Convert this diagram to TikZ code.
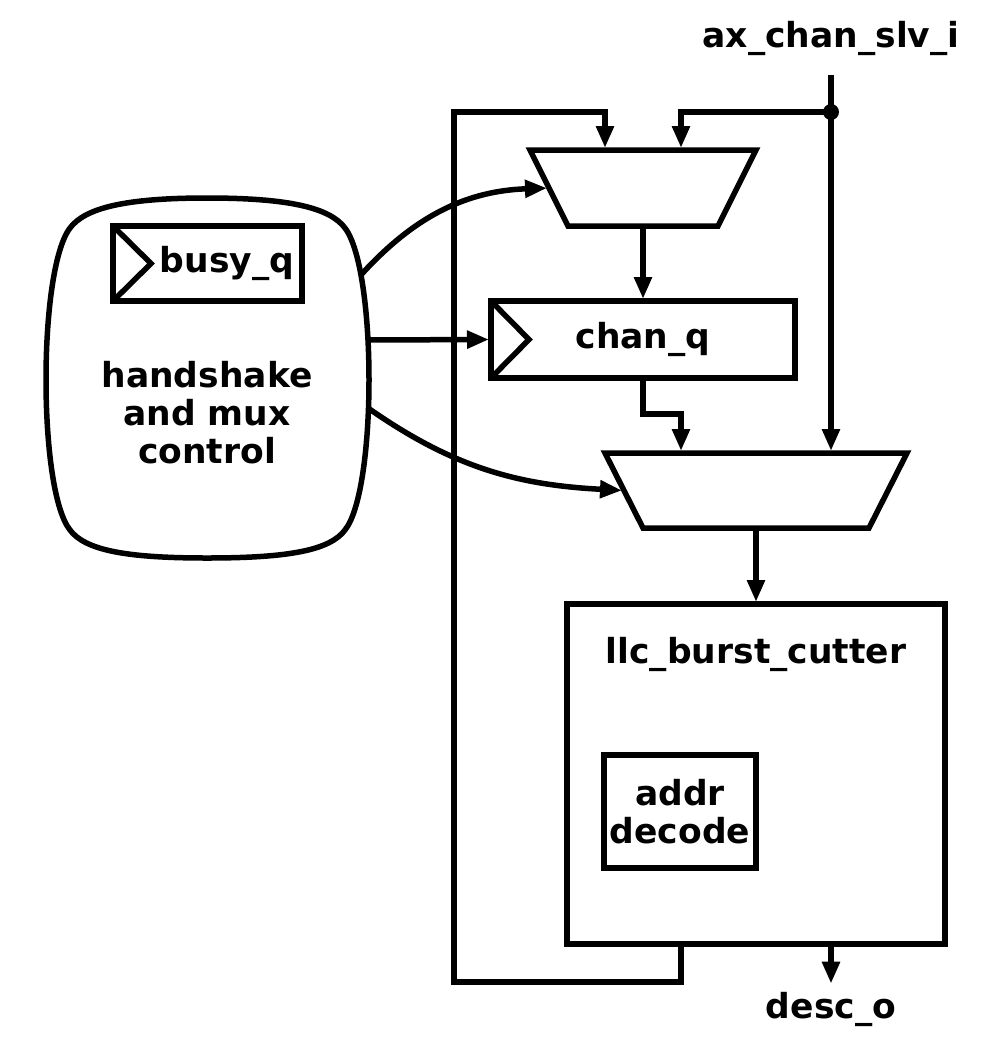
\documentclass[tikz,border=0pt]{standalone}
\usepackage{fontspec}
\setmainfont{DejaVu Sans}
\usetikzlibrary{arrows.meta}
\begin{document}
\begin{tikzpicture}[x=1pt, y=-1pt, line width=5.5pt,
    font=\fontsize{34.5}{38}\selectfont\bfseries,
    sig/.style={-{Triangle[length=22pt,width=17pt]}, shorten >=2pt},
    box/.style={draw, rectangle, inner sep=0pt, outer sep=0pt},
    muxarea/.style={rectangle, inner sep=0pt, outer sep=0pt}]
  \useasboundingbox (0,0) rectangle (983,1058) ;
  % handshake and mux control
  \draw (207,198) .. controls (290,198) and (330,208) .. (345,228)
     .. controls (377,270) and (377,490) .. (345,530)
     .. controls (330,550) and (290,558) .. (207,558)
     .. controls (125,558) and (85,550) .. (70,530)
     .. controls (38,490) and (38,270) .. (70,228)
     .. controls (85,208) and (125,198) .. (207,198) -- cycle ;
  \node[align=center] (ctrl) at (207,413) {handshake\\and mux\\control} ;
  \node[box, minimum width=189pt, minimum height=75pt] (busyq) at (207.5,263.5) {} ;
  \draw (busyq.north west) -- ([xshift=38pt]busyq.west) -- (busyq.south west) ;
  \node (busylbl) at (227,263) {busy\_q} ;
  \coordinate (ctrl1) at (360,276) ;
  \coordinate (ctrl2) at (366,340) ;
  \coordinate (ctrl3) at (368,408) ;
  % data path
  \node[muxarea, minimum width=226pt, minimum height=76pt] (mux1) at (643,188) {} ;
  \draw (mux1.north west) -- (mux1.north east) -- ([xshift=-38pt]mux1.south east)
     -- ([xshift=38pt]mux1.south west) -- cycle ;
  \node[box, minimum width=304pt, minimum height=77pt] (chanq) at (643,339.5) {} ;
  \draw (chanq.north west) -- ([xshift=38pt]chanq.west) -- (chanq.south west) ;
  \node (chanlbl) at (643,339.5) {chan\_q} ;
  \node[muxarea, minimum width=302pt, minimum height=75pt] (mux2) at (756,490.5) {} ;
  \draw (mux2.north west) -- (mux2.north east) -- ([xshift=-38pt]mux2.south east)
     -- ([xshift=38pt]mux2.south west) -- cycle ;
  \node[box, minimum width=378pt, minimum height=340pt] (cutter) at (756,774) {} ;
  \node[anchor=base] (cutterlbl) at (756,663) {llc\_burst\_cutter} ;
  \node[box, minimum width=152pt, minimum height=113pt, align=center] (decode) at (680,811.5) {addr\\decode} ;
  % ports
  \node[anchor=base] (axlbl) at (831,47) {ax\_chan\_slv\_i} ;
  \node[anchor=base] (desclbl) at (831,1018) {desc\_o} ;
  \coordinate (axin) at (831,75) ;
  \coordinate (split) at (831,112) ;
  \coordinate (fbl) at (454,982) ;
  \coordinate (ftl) at (454,112) ;
  % wires
  \draw[sig] (axin) -- ([xshift=75pt]mux2.north) ;
  \fill (split) circle (8pt) ;
  \draw[sig] (split) -| ([xshift=38pt]mux1.north) ;
  \draw[sig] ([xshift=-75pt]cutter.south) |- (fbl) -- (ftl) -| ([xshift=-38pt]mux1.north) ;
  \draw[sig] (mux1.south) -- (chanq.north) ;
  \draw[sig] (chanq.south) -- ++(0,36) -| ([xshift=-75pt]mux2.north) ;
  \draw[sig] (mux2.south) -- (cutter.north) ;
  \draw[sig] ([xshift=75pt]cutter.south) -- (desclbl.north) ;
  \draw[sig] (ctrl1) to[out=48, in=182] ([xshift=19pt]mux1.west) ;
  \draw[sig] (ctrl2) -- (chanq.west) ;
  \draw[sig] (ctrl3) to[out=-35, in=177] ([xshift=19pt]mux2.west) ;
\end{tikzpicture}
\end{document}
